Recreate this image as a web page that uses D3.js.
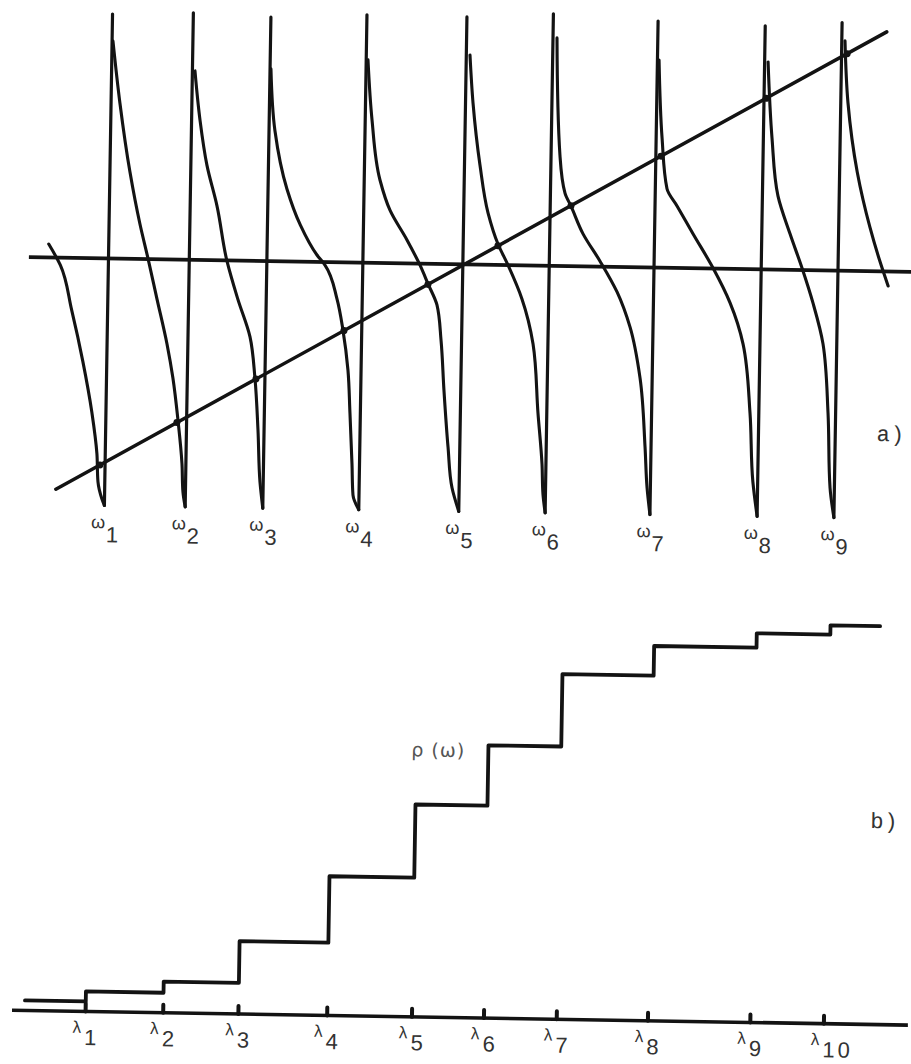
<!DOCTYPE html>
<html>
<head>
<meta charset="utf-8">
<script src="https://cdn.jsdelivr.net/npm/d3@7"></script>
<style>
  html, body { margin: 0; background: #fff; }
  svg { display: block; }
</style>
</head>
<body>
<svg id="fig" width="911" height="1064"></svg>
<script>
// ---- a) branches of the secular function f(ω) and the straight line ----
const poles     = [1.05, 2.06, 3.03, 4.23, 5.48, 6.56, 7.87, 9.21, 10.17];
const poleTops  = [4.89, 4.94, 4.88, 4.96, 4.95, 5.04, 4.93, 4.87, 4.96];
const poleFloor = -4.94;

const branch0 = [[0.30, 0.27], [0.45, -0.15], [0.60, -1.04], [0.75, -2.06], [0.875, -3.09], [0.946, -3.91], [0.965, -4.47], [1.018, -4.81]];
const branch1 = [[1.061, 4.35], [1.161, 3.11], [1.30, 1.74], [1.436, 0.70], [1.543, 0.02], [1.664, -0.79], [1.799, -1.69], [1.88, -2.37], [1.952, -3.21], [2.011, -4.08], [2.029, -4.64]];
const branch2 = [[2.092, 3.78], [2.165, 2.80], [2.261, 1.90], [2.395, 1.09], [2.531, -0.01], [2.675, -0.77], [2.835, -1.52], [2.905, -2.34], [2.954, -3.38], [2.99, -4.42]];
const branch3 = [[3.041, 3.85], [3.104, 2.61], [3.266, 1.45], [3.436, 0.75], [3.655, 0.14], [3.757, -0.06], [3.914, -0.73], [3.995, -1.35], [4.066, -2.15], [4.10, -3.01], [4.136, -4.03], [4.155, -4.65]];
const branch4 = [[4.252, 4.06], [4.315, 2.86], [4.427, 1.66], [4.558, 1.06], [4.777, 0.47], [4.945, -0.03], [5.049, -0.40], [5.165, -0.82], [5.223, -1.52], [5.27, -2.52], [5.333, -3.66], [5.391, -4.47]];
const branch5 = [[5.526, 4.19], [5.574, 3.23], [5.674, 1.99], [5.784, 1.04], [5.915, 0.42], [6.045, 0.00], [6.226, -0.67], [6.374, -1.57], [6.45, -2.95], [6.511, -3.97], [6.53, -4.58]];
const branch6 = [[6.61, 4.56], [6.671, 2.22], [6.742, 1.46], [6.82, 1.20], [6.976, 0.65], [7.194, 0.11], [7.413, -0.50], [7.583, -1.20], [7.718, -2.21], [7.795, -3.59], [7.829, -4.41]];
const branch7 = [[7.89, 4.15], [7.944, 2.59], [8.016, 1.58], [8.145, 1.24], [8.35, 0.69], [8.608, 0.01], [8.828, -0.68], [8.999, -1.50], [9.10, -2.88], [9.15, -4.25]];
const branch8 = [[9.253, 4.15], [9.318, 2.63], [9.405, 1.47], [9.563, 0.72], [9.72, 0.04], [9.865, -0.66], [9.998, -1.47], [10.075, -2.85], [10.116, -4.35]];
const branch9 = [[10.21, 4.60], [10.26, 3.36], [10.39, 1.98], [10.56, 0.88], [10.69, 0.21], [10.80, -0.29]];

const diagonal   = [[0.44, -4.63], [10.73, 4.79]];
const axisSpanA  = [0.055, 11.4];
const roots      = [0.986, 1.939, 2.918, 4.008, 5.048, 5.915, 6.82, 7.934, 9.235, 10.24];
const omegaSubs  = ["1", "2", "3", "4", "5", "6", "7", "8", "9"];

// ---- b) staircase ρ(ω) ----
const lambdas    = [0.92, 1.89, 2.83, 3.94, 5.00, 5.90, 6.81, 7.95, 9.23, 10.15];
const rhoLevels  = [0.025, 0.050, 0.078, 0.182, 0.348, 0.531, 0.682, 0.863, 0.937, 0.973, 0.996];
const stepSpan   = [0.16, 10.77];
const axisSpanB  = [0.0, 11.2];
const lambdaSubs = ["1", "2", "3", "4", "5", "6", "7", "8", "9", "10"];

const ink = "#131313";
const textInk = "#333";
const labelFont = "'Liberation Sans', Arial, sans-serif";

const svg = d3.select("#fig");
// the whole sheet sits slightly turned
const sheet = svg.append("g").attr("transform", "rotate(0.95, 455, 532)");

// scales
const xA = d3.scaleLinear().domain([0, 11]).range([20, 900]);
const yA = d3.scaleLinear().domain([-5, 5]).range([514.3, 14.3]);
const xB = d3.scaleLinear().domain([0, 11]).range([20, 900]);
const yB = d3.scaleLinear().domain([0, 1]).range([1017.5, 617.5]);

// ================= panel a =================
const gA = sheet.append("g");

// horizontal axis f = 0
gA.append("line")
  .attr("x1", xA(axisSpanA[0])).attr("x2", xA(axisSpanA[1]))
  .attr("y1", yA(0)).attr("y2", yA(0))
  .attr("stroke", ink).attr("stroke-width", 3.8);

// straight line
const lineA = d3.line().x(d => xA(d[0])).y(d => yA(d[1]));
gA.append("path")
  .attr("d", lineA(diagonal))
  .attr("fill", "none").attr("stroke", ink)
  .attr("stroke-width", 3.5).attr("stroke-linecap", "round");

// vertical jumps at the poles
gA.selectAll("line.pole")
  .data(poles)
  .join("line")
  .attr("class", "pole")
  .attr("x1", d => xA(d)).attr("x2", d => xA(d))
  .attr("y1", yA(poleFloor))
  .attr("y2", (d, i) => yA(poleTops[i]))
  .attr("stroke", ink).attr("stroke-width", 3.2)
  .attr("stroke-linecap", "round");

// descending branches between poles
const branches = [branch0, branch1, branch2, branch3, branch4, branch5, branch6, branch7, branch8, branch9];
const branchLine = d3.line()
  .x(d => xA(d[0])).y(d => yA(d[1]))
  .curve(d3.curveMonotoneY);

gA.selectAll("path.branch")
  .data(branches.map((b, i) => i < poles.length ? b.concat([[poles[i], poleFloor]]) : b))
  .join("path")
  .attr("class", "branch")
  .attr("d", branchLine)
  .attr("fill", "none").attr("stroke", ink)
  .attr("stroke-width", 3.1)
  .attr("stroke-linecap", "round").attr("stroke-linejoin", "round");

// intersections of the line with the branches
const diagF = d3.scaleLinear()
  .domain([diagonal[0][0], diagonal[1][0]])
  .range([diagonal[0][1], diagonal[1][1]]);
gA.selectAll("circle.root")
  .data(roots)
  .join("circle")
  .attr("class", "root")
  .attr("cx", d => xA(d)).attr("cy", d => yA(diagF(d)))
  .attr("r", 3.5).attr("fill", ink);

// ω_i labels
const omegaG = gA.selectAll("g.omega")
  .data(omegaSubs)
  .join("g")
  .attr("class", "omega")
  .attr("transform", (d, i) => `translate(${xA(poles[i])},0)`);
omegaG.append("text")
  .attr("x", -6).attr("y", 534)
  .attr("text-anchor", "middle")
  .attr("font-family", labelFont).attr("font-size", 18)
  .attr("fill", textInk)
  .text("ω");
omegaG.append("text")
  .attr("x", 2).attr("y", 548)
  .attr("font-family", labelFont).attr("font-size", 22)
  .attr("fill", textInk)
  .text(d => d);

gA.append("text")
  .attr("x", 875).attr("y", 434)
  .attr("font-family", "'Liberation Mono', 'Courier New', monospace")
  .attr("font-size", 22).attr("letter-spacing", 1).attr("fill", textInk)
  .text("a)");

// ================= panel b =================
const gB = sheet.append("g");

// ω axis
gB.append("line")
  .attr("x1", xB(axisSpanB[0])).attr("x2", xB(axisSpanB[1]))
  .attr("y1", yB(0)).attr("y2", yB(0))
  .attr("stroke", ink).attr("stroke-width", 3.6);

// tick marks at the λ_i
gB.selectAll("line.tick")
  .data(lambdas)
  .join("line")
  .attr("class", "tick")
  .attr("x1", d => xB(d)).attr("x2", d => xB(d))
  .attr("y1", yB(0)).attr("y2", yB(0) - 8)
  .attr("stroke", ink).attr("stroke-width", 4)
  .attr("stroke-linecap", "round");

// staircase
const stairs = [[stepSpan[0], rhoLevels[0]]]
  .concat(lambdas.map((l, i) => [l, rhoLevels[i + 1]]))
  .concat([[stepSpan[1], rhoLevels[rhoLevels.length - 1]]]);
const stepLine = d3.line()
  .x(d => xB(d[0])).y(d => yB(d[1]))
  .curve(d3.curveStepAfter);
gB.append("path")
  .attr("d", stepLine(stairs))
  .attr("fill", "none").attr("stroke", ink)
  .attr("stroke-width", 3.8)
  .attr("stroke-linecap", "round").attr("stroke-linejoin", "round");

// λ_i labels
const lamG = gB.selectAll("g.lambda")
  .data(lambdaSubs)
  .join("g")
  .attr("class", "lambda")
  .attr("transform", (d, i) => `translate(${xB(lambdas[i])},0)`);
lamG.append("text")
  .attr("x", -8.5).attr("y", 1039)
  .attr("text-anchor", "middle")
  .attr("font-family", labelFont).attr("font-size", 17)
  .attr("fill", textInk)
  .text("λ");
lamG.append("text")
  .attr("x", -1).attr("y", 1051)
  .attr("font-family", labelFont).attr("font-size", 22)
  .attr("letter-spacing", d => d.length > 1 ? 3 : 0)
  .attr("fill", textInk)
  .text(d => d);

gB.append("text")
  .attr("x", 415).attr("y", 757)
  .attr("font-family", "'DejaVu Sans', sans-serif")
  .attr("font-size", 19).attr("letter-spacing", 1)
  .attr("fill", "#555")
  .text("ρ (ω)");

gB.append("text")
  .attr("x", 875).attr("y", 821)
  .attr("font-family", "'Liberation Mono', 'Courier New', monospace")
  .attr("font-size", 22).attr("letter-spacing", 1).attr("fill", textInk)
  .text("b)");
</script>
</body>
</html>
